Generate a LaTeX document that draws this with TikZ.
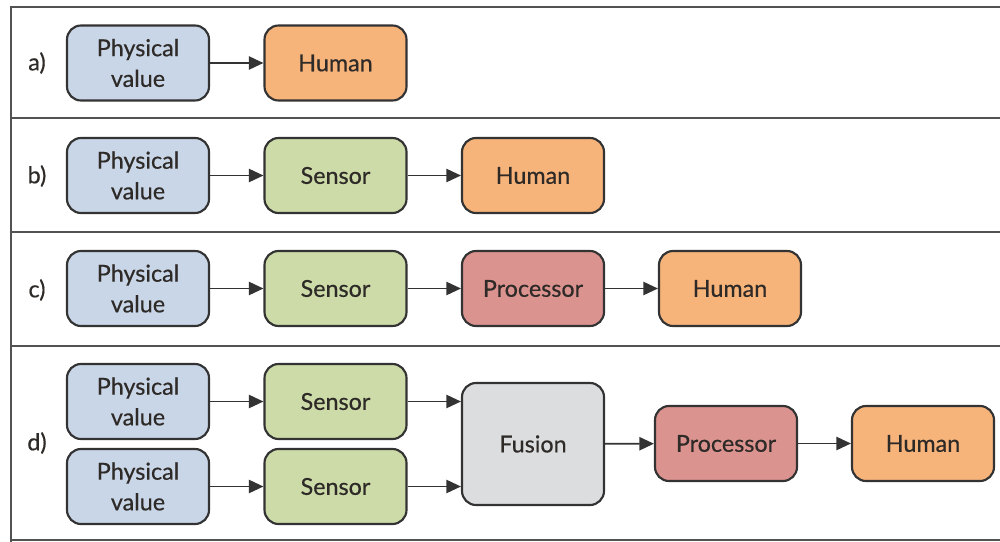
\documentclass[tikz,border=0pt]{standalone}
\usepackage{fontspec}
\newfontfamily\boxfont{Lato}[FakeBold=0.5]
\usetikzlibrary{arrows.meta}
\definecolor{physfill}{HTML}{C9D6E7}
\definecolor{sensfill}{HTML}{CCDBA8}
\definecolor{humfill}{HTML}{F6B37A}
\definecolor{procfill}{HTML}{DB938F}
\definecolor{fusfill}{HTML}{DCDDDF}
\definecolor{edge}{HTML}{333333}
\definecolor{ink}{HTML}{2E2A27}
\tikzset{
  block/.style={draw=edge, line width=1.6pt, rounded corners=10.5pt,
    minimum width=106.5pt, minimum height=56.25pt, inner sep=0pt,
    align=center, text=ink, font=\boxfont\fontsize{17.5}{23}\selectfont},
  phys/.style={block, fill=physfill},
  sens/.style={block, fill=sensfill},
  hum/.style={block, fill=humfill},
  proc/.style={block, fill=procfill},
  fus/.style={block, fill=fusfill, minimum height=91.5pt},
  rowlabel/.style={text=ink, font=\boxfont\fontsize{17.5}{20}\selectfont},
  link/.style={draw=edge, line width=1.3pt, -{Triangle[length=11pt,width=10pt]}},
  frame/.style={draw=edge!85, line width=2pt}
}
\begin{document}
\begin{tikzpicture}[x=0.75pt, y=-0.75pt]
\useasboundingbox (0,0) rectangle (1000,542);
% panel frame and separators
\draw[frame] (1000,7) -- (11,7) -- (11,542);
\draw[frame] (11,118) -- (1000,118);
\draw[frame] (11,232) -- (1000,232);
\draw[frame] (11,346) -- (1000,346);
\draw[frame] (11,540) -- (1000,540);

% a) direct reading
\node[rowlabel] (la) at (37,63) {a)};
\node[phys] (pa) at (138,63) {Physical\\value};
\node[hum]  (ha) at (335.5,63) {Human};
\draw[link] (pa) -- (ha);

% b) with a sensor
\node[rowlabel] (lb) at (37,176) {b)};
\node[phys] (pb) at (138,175.5) {Physical\\value};
\node[sens] (sb) at (335.5,175.5) {Sensor};
\node[hum]  (hb) at (533,175.5) {Human};
\draw[link] (pb) -- (sb);
\draw[link] (sb) -- (hb);

% c) with a processor
\node[rowlabel] (lc) at (37,290) {c)};
\node[phys] (pc) at (138,288.5) {Physical\\value};
\node[sens] (sc) at (335.5,288.5) {Sensor};
\node[proc] (rc) at (533,288.5) {Processor};
\node[hum]  (hc) at (730,288.5) {Human};
\draw[link] (pc) -- (sc);
\draw[link] (sc) -- (rc);
\draw[link] (rc) -- (hc);

% d) sensor fusion
\node[rowlabel] (ld) at (37,443) {d)};
\node[phys] (pd1) at (138,401.5) {Physical\\value};
\node[phys] (pd2) at (138,486.5) {Physical\\value};
\node[sens] (sd1) at (335.5,401.5) {Sensor};
\node[sens] (sd2) at (335.5,486.5) {Sensor};
\node[fus]  (fd) at (533,444) {Fusion};
\node[proc] (rd) at (726,443.5) {Processor};
\node[hum]  (hd) at (923,443.5) {Human};
\draw[link] (pd1) -- (sd1);
\draw[link] (pd2) -- (sd2);
\draw[link] (sd1.east) -- (sd1.east -| fd.west);
\draw[link] (sd2.east) -- (sd2.east -| fd.west);
\draw[link] (fd) -- (rd);
\draw[link] (rd) -- (hd);
\end{tikzpicture}
\end{document}
